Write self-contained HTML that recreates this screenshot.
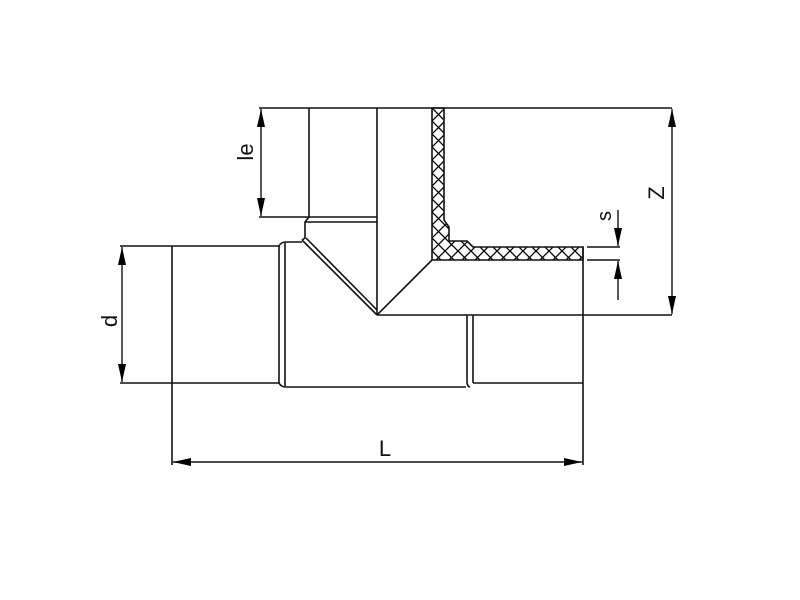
<!DOCTYPE html>
<html><head><style>html,body{margin:0;padding:0;background:#fff}svg{display:block}</style></head><body>
<svg width="800" height="600" viewBox="0 0 800 600" xmlns="http://www.w3.org/2000/svg">
<defs>
<pattern id="h" x="432" y="108" width="13" height="13" patternUnits="userSpaceOnUse">
<path d="M0,0 L13,13 M13,0 L0,13" stroke="#000" stroke-width="1.3"/>
</pattern>
<marker id="a" viewBox="0 0 18 8" refX="18" refY="4" markerWidth="18" markerHeight="8" markerUnits="userSpaceOnUse" orient="auto-start-reverse"><path d="M0,0 L18,4 L0,8 z" fill="#000"/></marker>
</defs>
<g fill="none" stroke="#111" stroke-width="1.6">
<path d="M432,108 L444,108 L444,220 L449,227 L449,241 L467,241 L473,247 L583,247 L583,260 L432,260 Z" fill="url(#h)"/>
<line x1="259" y1="108" x2="672" y2="108"/>
<line x1="309" y1="108" x2="309" y2="217"/>
<line x1="377" y1="108" x2="377" y2="315"/>
<line x1="259" y1="217" x2="377" y2="217"/>
<line x1="305" y1="222" x2="377" y2="222"/>
<path d="M309,217 L305,222 L305,238 L302,240"/>
<path d="M302,240 L377,315"/>
<path d="M306,238 L377,310"/>
<line x1="432" y1="260" x2="377" y2="315"/>
<line x1="120" y1="246" x2="279" y2="246"/>
<line x1="120" y1="383" x2="279" y2="383"/>
<line x1="172" y1="246" x2="172" y2="465"/>
<path d="M279,246 Q281,242 286,242 L302,242"/>
<path d="M279,383 Q281,387 286,387 L466,387"/>
<line x1="279" y1="246" x2="279" y2="383"/>
<line x1="285" y1="243" x2="285" y2="386"/>
<line x1="377" y1="315" x2="672" y2="315"/>
<line x1="467" y1="315" x2="467" y2="383"/>
<path d="M467,383 Q468,387 470,387"/>
<line x1="473" y1="315" x2="473" y2="383"/>
<line x1="473" y1="383" x2="583" y2="383"/>
<line x1="583" y1="247" x2="583" y2="465"/>
<line x1="587" y1="247" x2="620" y2="247"/>
<line x1="587" y1="260" x2="620" y2="260"/>
</g>
<g stroke="#111" stroke-width="1.4" fill="none">
<line x1="261" y1="109" x2="261" y2="216" marker-start="url(#a)" marker-end="url(#a)"/>
<line x1="122" y1="247" x2="122" y2="382" marker-start="url(#a)" marker-end="url(#a)"/>
<line x1="672" y1="109" x2="672" y2="314" marker-start="url(#a)" marker-end="url(#a)"/>
<line x1="173" y1="462" x2="582" y2="462" marker-start="url(#a)" marker-end="url(#a)"/>
<line x1="618" y1="210" x2="618" y2="246" marker-end="url(#a)"/>
<line x1="618" y1="300" x2="618" y2="261" marker-end="url(#a)"/>
</g>
<g font-family="Liberation Sans, sans-serif" font-size="22" fill="#111">
<text x="385" y="456" text-anchor="middle">L</text>
<text transform="translate(117,321) rotate(-90)" text-anchor="middle">d</text>
<text transform="translate(253,152) rotate(-90)" text-anchor="middle">le</text>
<text transform="translate(664,193) rotate(-90)" text-anchor="middle">Z</text>
<text transform="translate(611,216) rotate(-90)" text-anchor="middle" font-size="20">s</text>
</g>
</svg>
</body></html>
